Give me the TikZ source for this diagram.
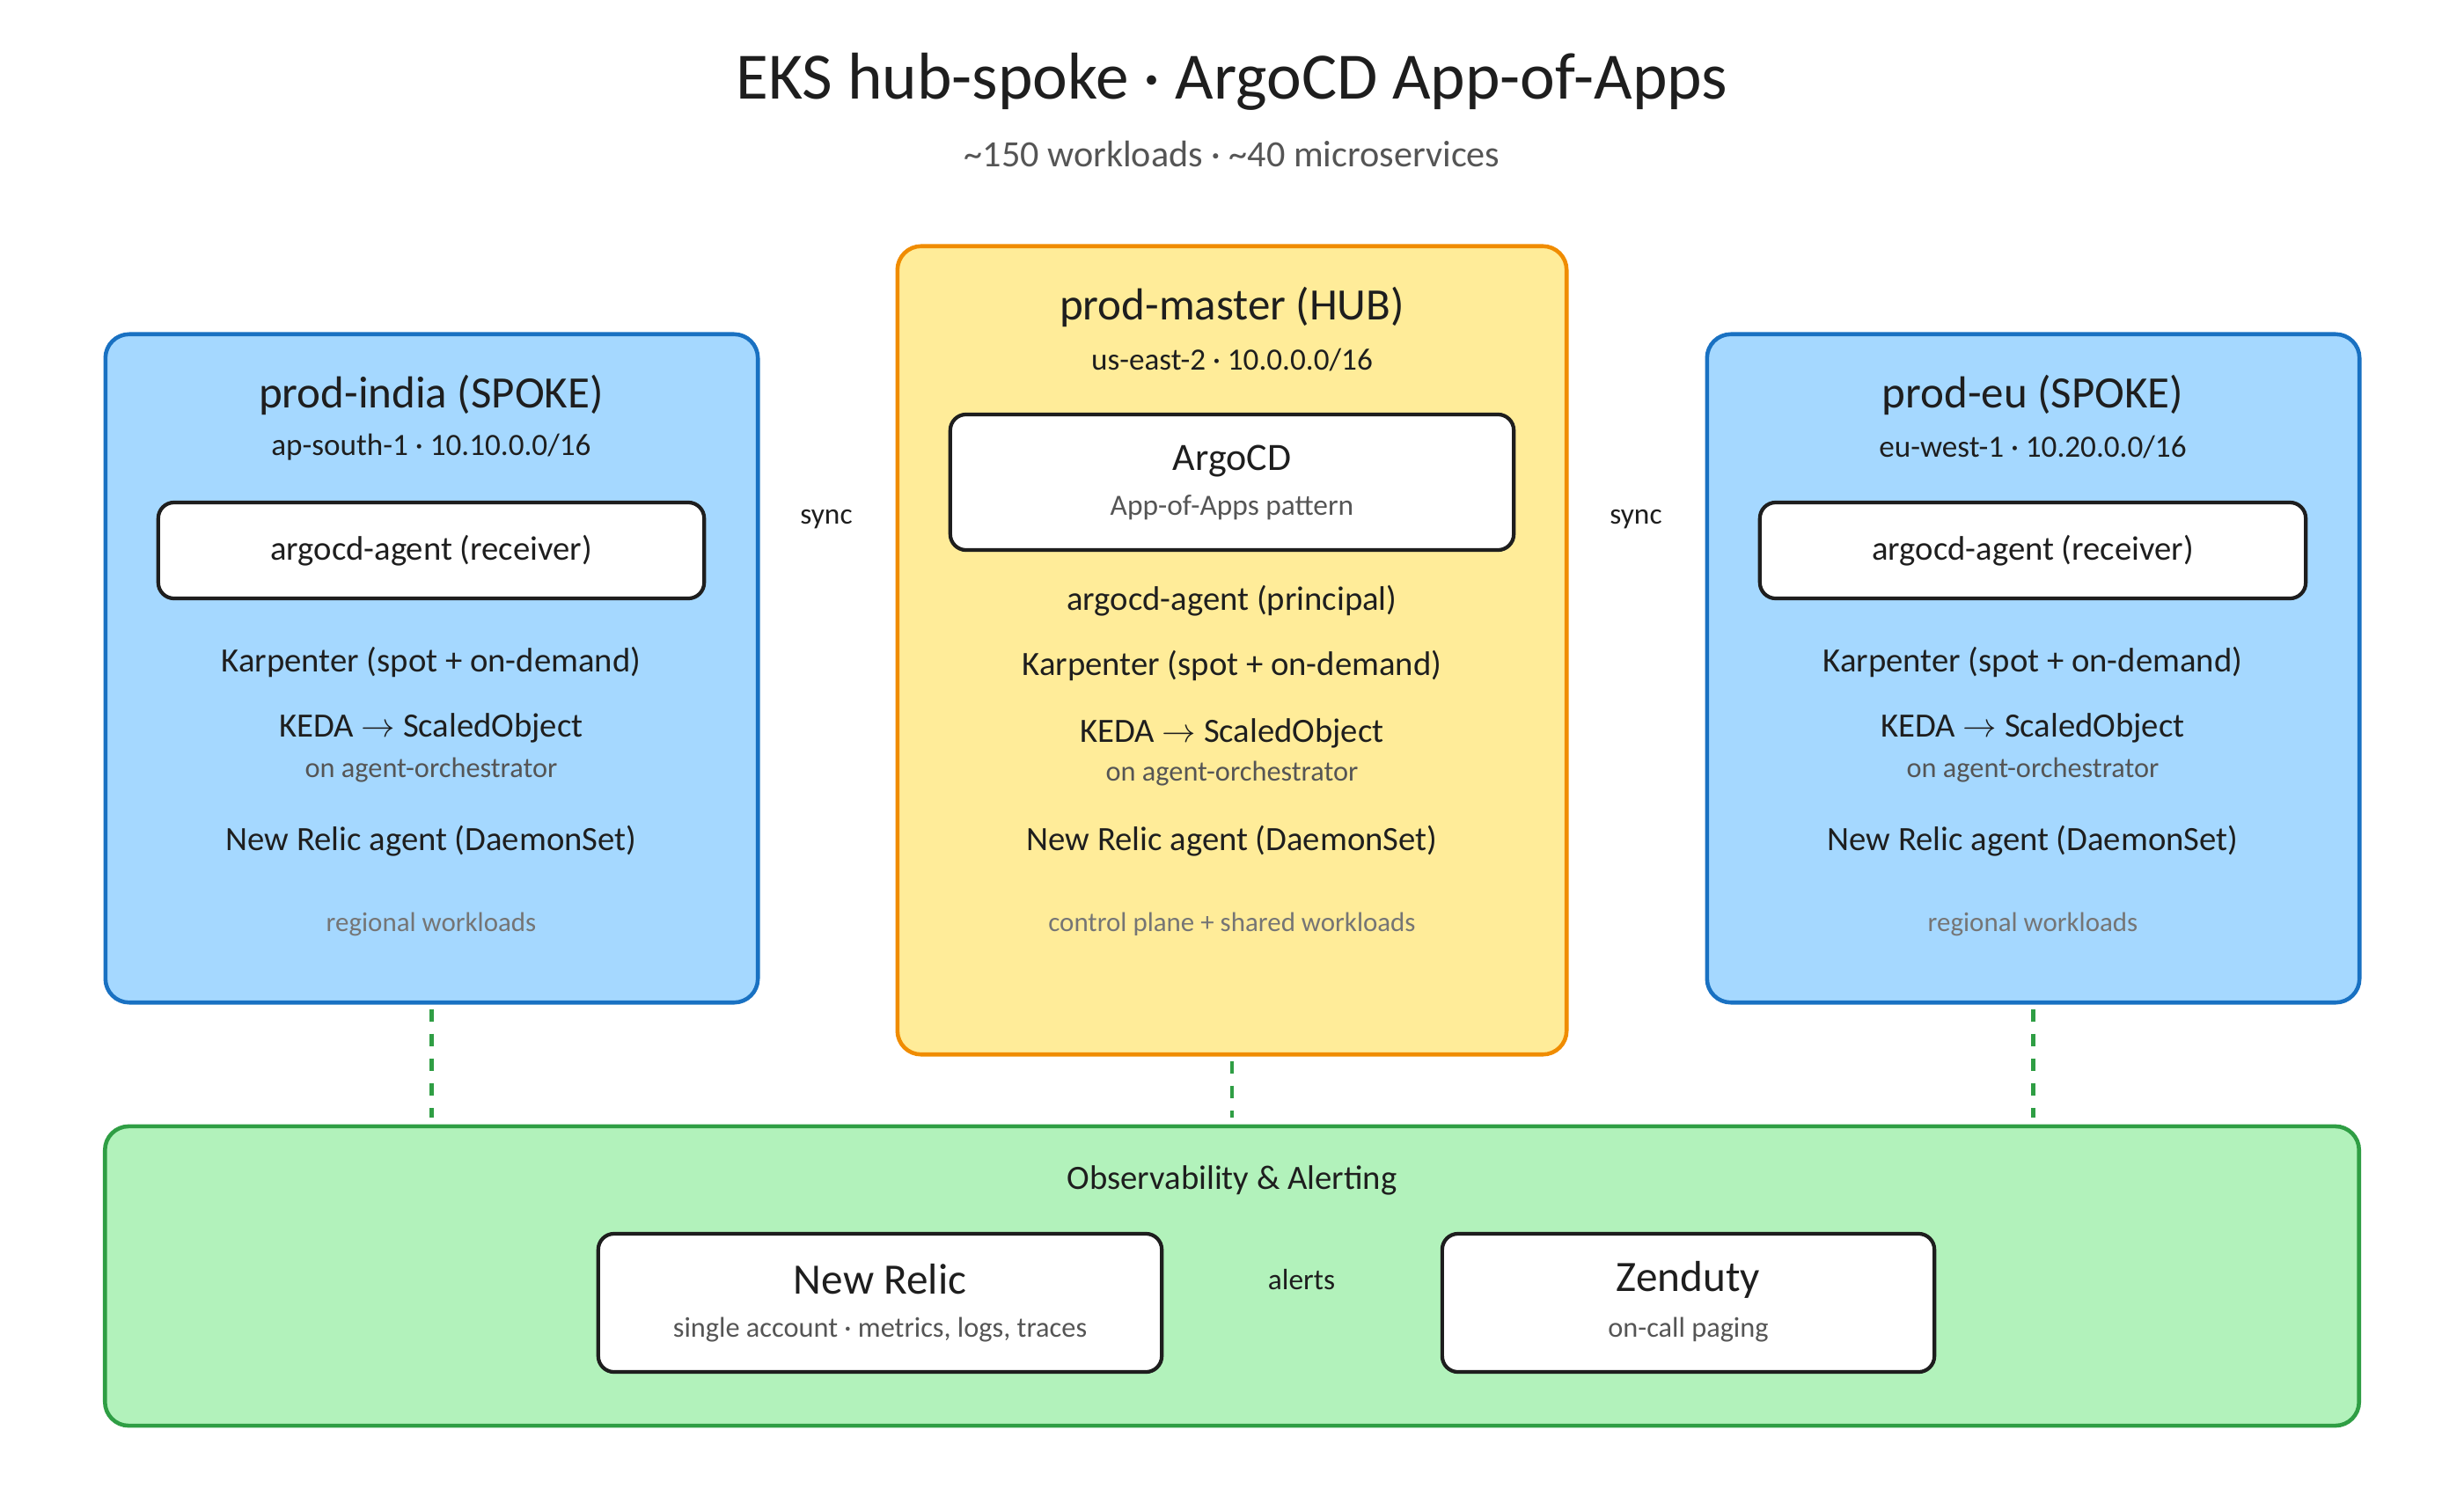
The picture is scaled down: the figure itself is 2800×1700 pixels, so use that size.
\documentclass[tikz,border=0pt]{standalone}
\usepackage{fontspec}
\setmainfont{Carlito}
\usetikzlibrary{positioning}
\definecolor{ink}{HTML}{1E1E1E}
\definecolor{muted}{HTML}{555555}
\definecolor{faint}{HTML}{757575}
\definecolor{spokefill}{HTML}{A5D8FF}
\definecolor{spokeline}{HTML}{1971C2}
\definecolor{hubfill}{HTML}{FFEC99}
\definecolor{hubline}{HTML}{F08C00}
\definecolor{obsfill}{HTML}{B2F2BB}
\definecolor{obsline}{HTML}{2F9E44}
\tikzset{
  spoke/.style={draw=spokeline,fill=spokefill,line width=1.3pt,rounded corners=0.27cm,minimum width=7.41cm,minimum height=7.59cm},
  hub/.style={draw=hubline,fill=hubfill,line width=1.3pt,rounded corners=0.27cm,minimum width=7.6cm,minimum height=9.18cm},
  obs/.style={draw=obsline,fill=obsfill,line width=1.3pt,rounded corners=0.27cm,minimum width=25.6cm,minimum height=3.4cm},
  inner/.style={draw=ink,fill=white,line width=1.2pt,rounded corners=0.18cm},
  txt/.style={yshift=-0.04cm},
  ttl/.style={txt,text=ink,font=\fontsize{21.4}{24}\selectfont},
  head/.style={txt,text=ink,font=\fontsize{14.5}{17}\selectfont},
  region/.style={txt,text=ink,font=\fontsize{10}{12}\selectfont},
  item/.style={txt,text=ink,font=\fontsize{11}{13}\selectfont},
  note/.style={txt,text=muted,font=\fontsize{9.2}{11}\selectfont},
  foot/.style={txt,text=faint,font=\fontsize{8.8}{10}\selectfont},
  tag/.style={txt,text=ink,font=\fontsize{9.5}{11}\selectfont},
  link/.style={obsline,line width=1.2pt,dash pattern=on 4pt off 4pt},
}
\begin{document}
\begin{tikzpicture}[x=0.01cm,y=-0.01cm]
  \useasboundingbox (0,0) rectangle (2800,1700);
  % title
  \node[ttl] (title) at (1400,89) {EKS hub-spoke · ArgoCD App-of-Apps};
  \node[txt,text=muted,font=\fontsize{12}{14}\selectfont] (subtitle) at (1400,171) {\textasciitilde150 workloads · \textasciitilde40 microservices};
  % clusters
  \node[spoke] (india) at (490.5,759.5) {};
  \node[hub] (master) at (1400,739) {};
  \node[spoke] (eu) at (2310.5,759.5) {};
  \node[obs] (obsv) at (1400,1450) {};
  % prod-india
  \node[head] (indiaHead) at (490,445) {prod-india (SPOKE)};
  \node[region] (indiaNet) at (490,504) {ap-south-1 · 10.10.0.0/16};
  \node[inner,item,minimum width=6.2cm,minimum height=1.09cm] (indiaAgent) at (490,621.5) {argocd-agent (receiver)};
  \node[item] (indiaKarp) at (490,748) {Karpenter (spot + on-demand)};
  \node[item] (indiaKeda) at (490,823) {KEDA $\rightarrow$ ScaledObject};
  \node[note] (indiaKedaNote) at (490,871) {on agent-orchestrator};
  \node[item] (indiaNR) at (490,952) {New Relic agent (DaemonSet)};
  \node[foot] (indiaFoot) at (490,1046) {regional workloads};
  % prod-master
  \node[head] (masterHead) at (1400,345) {prod-master (HUB)};
  \node[region] (masterNet) at (1400,405) {us-east-2 · 10.0.0.0/16};
  \node[inner,minimum width=6.4cm,minimum height=1.54cm] (argo) at (1400,548) {};
  \node[txt,text=ink,font=\fontsize{12.5}{15}\selectfont] (argoName) at (1400,520) {ArgoCD};
  \node[txt,text=muted,font=\fontsize{9.5}{11}\selectfont] (argoNote) at (1400,573) {App-of-Apps pattern};
  \node[item] (masterAgent) at (1400,679) {argocd-agent (principal)};
  \node[item] (masterKarp) at (1400,752) {Karpenter (spot + on-demand)};
  \node[item] (masterKeda) at (1400,829) {KEDA $\rightarrow$ ScaledObject};
  \node[note] (masterKedaNote) at (1400,875) {on agent-orchestrator};
  \node[item] (masterNR) at (1400,952) {New Relic agent (DaemonSet)};
  \node[foot] (masterFoot) at (1400,1046) {control plane + shared workloads};
  % prod-eu
  \node[head] (euHead) at (2310,445) {prod-eu (SPOKE)};
  \node[region] (euNet) at (2310,504) {eu-west-1 · 10.20.0.0/16};
  \node[inner,item,minimum width=6.2cm,minimum height=1.09cm] (euAgent) at (2310,621.5) {argocd-agent (receiver)};
  \node[item] (euKarp) at (2310,748) {Karpenter (spot + on-demand)};
  \node[item] (euKeda) at (2310,823) {KEDA $\rightarrow$ ScaledObject};
  \node[note] (euKedaNote) at (2310,871) {on agent-orchestrator};
  \node[item] (euNR) at (2310,952) {New Relic agent (DaemonSet)};
  \node[foot] (euFoot) at (2310,1046) {regional workloads};
  % sync labels
  \node[tag] (syncL) at (939,586) {sync};
  \node[tag] (syncR) at (1859,586) {sync};
  % observability
  \node[txt,text=ink,font=\fontsize{11}{13}\selectfont] (obsHead) at (1400,1337) {Observability \& Alerting};
  \node[inner,minimum width=6.4cm,minimum height=1.57cm] (newrelic) at (1000,1480.5) {};
  \node[txt,text=ink,font=\fontsize{14}{16}\selectfont] (nrName) at (1000,1450) {New Relic};
  \node[note] (nrNote) at (1000,1507) {single account · metrics, logs, traces};
  \node[inner,minimum width=5.59cm,minimum height=1.57cm] (zenduty) at (1918.5,1480.5) {};
  \node[txt,text=ink,font=\fontsize{14}{16}\selectfont] (zdName) at (1918.5,1450) {Zenduty};
  \node[note] (zdNote) at (1918.5,1507) {on-call paging};
  \node[tag] (alerts) at (1479,1450) {alerts};
  % telemetry links
  \draw[link] ([yshift=-0.05cm]india.south) -- ([yshift=0.08cm]india.south |- obsv.north);
  \draw[link] ([yshift=-0.05cm]master.south) -- ([yshift=0.08cm]master.south |- obsv.north);
  \draw[link] ([yshift=-0.05cm]eu.south) -- ([yshift=0.08cm]eu.south |- obsv.north);
\end{tikzpicture}
\end{document}
